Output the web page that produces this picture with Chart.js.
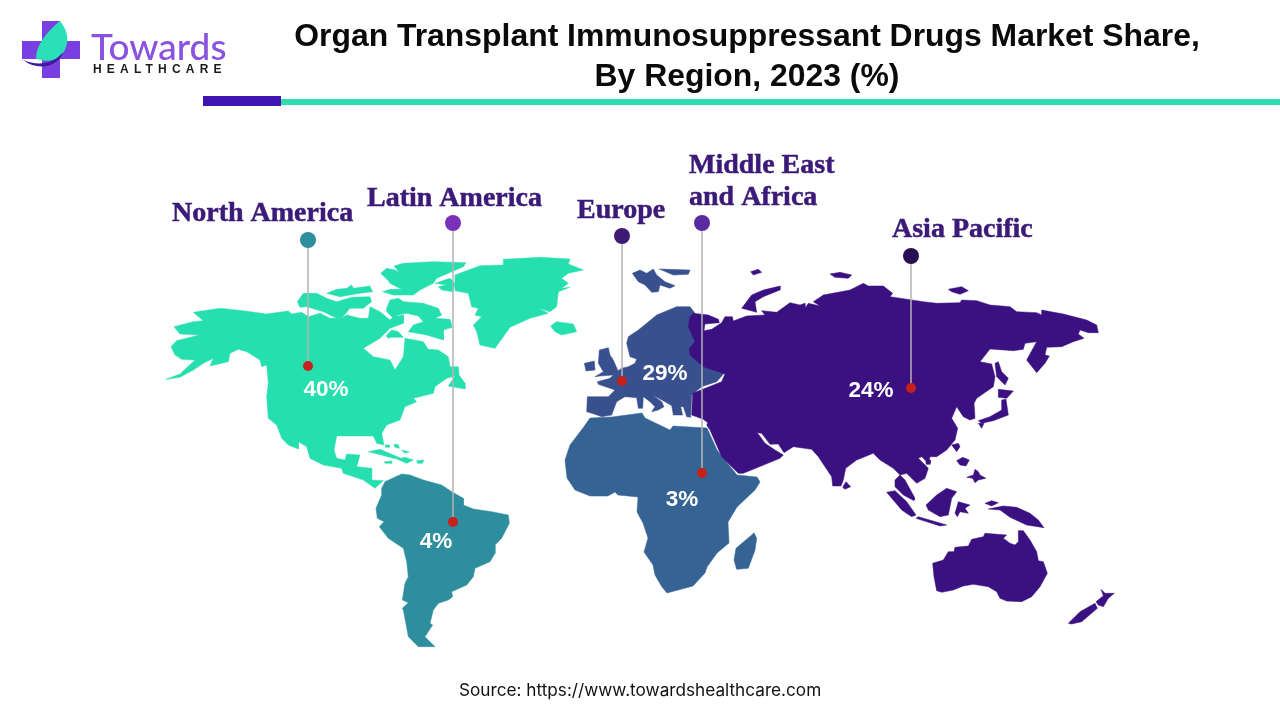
<!DOCTYPE html>
<html>
<head>
<meta charset="utf-8">
<title>Organ Transplant Immunosuppressant Drugs Market Share</title>
<script src="https://cdn.jsdelivr.net/npm/chart.js@4/dist/chart.umd.min.js"></script>
<style>
  body { margin: 0; background: #fff; width: 1280px; height: 720px; overflow: hidden; position: relative; }
  canvas { position: absolute; left: 0; top: 0; }
  .abs { position: absolute; white-space: nowrap; }
  #title { left: 207px; width: 1080px; top: 15px; text-align: center; font: bold 31.9px/40px "Liberation Sans", Arial, sans-serif; color: #0a0a0a; }
  #source { left: 459px; top: 679px; font: 17.2px Inter, sans-serif; color: #111; }
  #brand { left: 91px; top: 23px; font: 500 37px Lato, sans-serif; color: #8a52e0; }
  #brand2 { left: 93px; top: 62px; font: bold 12px "Liberation Sans", Arial, sans-serif; color: #1a1a1a; letter-spacing: 5.2px; }
  .bar { position: absolute; }
</style>
</head>
<body>
<canvas id="mapChart" width="1280" height="720"></canvas>
<svg class="abs" style="left:0;top:0" width="240" height="90">
  <path d="M42 21h18v20h20v18H60v19H42V59H22V41h20z" fill="#7a3fe0"/>
  <path d="M60 21c12 14 8 32-4 38-8 3-15 2-20-1 0-12 10-26 24-37z" fill="#2be0b8"/>
  <path d="M23 60c14 6 30 5 40-8-4 14-24 20-40 8z" fill="#3b1a9e"/>
</svg>
<div class="abs" id="brand">Towards</div>
<div class="abs" id="brand2">HEALTHCARE</div>
<div class="abs" id="title">Organ Transplant Immunosuppressant Drugs Market Share,<br>By Region, 2023 (%)</div>
<div class="bar" style="left:203px;top:96px;width:78px;height:10px;background:#3f14b0"></div>
<div class="bar" style="left:281px;top:99px;width:999px;height:6px;background:#2fdcb0"></div>
<div class="abs" id="source">Source: https://www.towardshealthcare.com</div>

<script>
// regions and their share
const regions = ['North America', 'Latin America', 'Europe', 'Middle East and Africa', 'Asia Pacific'];
const shares = [40, 4, 29, 3, 24];
const headColors = ['#2f8e9e', '#7a30b8', '#3f1a75', '#5a2aa0', '#2b0f55'];

// pin locations on the map
const pinX = [308, 453, 622, 702, 911];
const pinHeadY = [240, 223, 236, 223, 256];
const pinDotY = [366, 522, 381, 473, 388];
const shareX = [326, 436, 665, 682, 871];
const shareY = [390, 542, 374, 500, 391];

// caption lines: text, left edge, baseline
const captionLines = [
  ['North America', 172, 221],
  ['Latin America', 367, 206],
  ['Europe', 577, 218],
  ['Middle East', 689, 173],
  ['and Africa', 689, 205],
  ['Asia Pacific', 892, 237]
];

const northAmerica = [
  [18,388,60,372,105,330,65,328,45,315,33,290,50,272,118,255,60,252,42,230,100,215,130,212,100,187,180,175,250,182,320,192,385,183,395,192,425,187,445,200,480,190,510,205,545,205,560,195,600,205,625,205,630,170,660,185,690,210,700,200,730,195,730,220,690,235,660,265,610,295,640,320,690,330,705,360,730,320,735,265,790,275,805,298,835,300,865,320,870,350,895,350,897,375,915,400,915,417,865,408,885,378,860,385,825,410,820,430,760,445,770,455,735,470,720,510,680,525,665,550,672,585,650,580,640,558,530,558,522,600,530,625,555,630,560,612,600,615,590,650,635,655,635,690,670,692,645,715,610,690,550,670,545,655,490,645,450,625,440,590,415,575,415,597,385,585,365,565,350,525,325,505,320,440,325,400,320,345,305,350,300,330,260,305,235,298,210,310,205,335,150,348,160,325,130,340,100,360,60,382],
  [412,155,430,130,470,130,500,145,530,155,575,142,630,140,635,155,610,175,570,175,545,205,530,205,490,185,440,170,420,172],
  [500,130,530,118,560,115,575,105,580,115,630,108,638,125,600,130,540,140],
  [680,175,690,150,715,145,730,155,790,160,835,175,845,195,825,205,870,208,877,232,850,240,850,270,800,255,745,245,760,225,790,215,775,198,740,190,715,195,700,205,680,185],
  [678,258,695,240,715,245,730,262,695,262,685,265],
  [662,70,680,55,705,60,718,68,702,48,730,40,820,35,918,38,910,50,830,85,820,100,780,120,760,135,700,135,668,125,690,118,725,118,690,100,685,92],
  [825,100,870,85,885,100,880,125,845,120,835,110,860,105],
  [885,75,960,47,1030,45,1030,28,1140,22,1230,27,1225,42,1270,60,1225,70,1205,85,1225,100,1205,115,1230,112,1195,125,1190,170,1170,185,1135,175,1165,190,1110,205,1050,232,1030,260,1005,295,960,285,950,245,940,225,965,200,945,195,955,175,935,170,925,130,885,122],
  [1172,228,1190,215,1240,222,1250,245,1205,255,1185,245],
  [625,605,660,598,700,615,735,630,700,625,665,615],
  [712,628,735,622,760,630,740,640],
  [770,632,792,630,787,640,772,640],
  [673,635,695,633,695,640,675,640],
  [675,585,688,585,688,592,678,592],
  [702,582,715,584,718,595,705,592],
  [725,600,748,606,735,610]
];
const latinAmerica = [
  [65,85,75,65,125,42,150,45,190,60,245,75,275,95,310,115,310,135,340,147,395,155,445,165,448,190,425,235,405,255,405,280,390,305,345,325,340,350,320,375,275,395,278,410,265,420,235,430,220,450,210,490,218,495,195,530,225,560,175,560,145,530,130,450,127,445,145,428,127,420,135,370,145,350,140,305,130,265,85,235,58,200,72,185,52,175,48,145,65,105]
];
const africaMain = [
  [570,445,583,428,590,418,612,417,642,413,645,418,670,430,673,426,707,428,717,450,737,475,757,477,760,482,755,490,737,507,728,522,729,543,717,553,707,567,705,573,693,586,667,593,662,587,655,575,653,565,644,552,648,538,643,523,637,512,638,497,618,495,615,492,608,496,590,496,575,490,567,478,565,460]
];
const madagascar = [
  [1128,265,1175,225,1182,218,1190,235,1185,270,1165,325,1130,328,1122,300]
];
const europe = [
  [52,425,115,425,135,405,85,388,82,380,120,370,140,350,155,340,175,335,195,325,200,312,180,305,170,265,175,245,205,225,230,205,260,180,320,155,360,155,375,175,380,300,400,330,465,352,440,380,395,395,365,420,362,487,350,485,340,455,332,455,338,480,310,480,305,452,285,440,248,420,275,440,282,455,265,465,245,470,255,455,240,440,220,425,218,460,205,460,200,428,165,425,140,440,125,480,95,485,75,478,50,470],
  [85,325,88,285,115,278,120,300,130,315,145,350,130,360,90,363,75,365,100,350],
  [43,325,73,318,75,345,48,348],
  [187,55,210,45,230,55,250,42,260,60,285,80,315,92,300,100,270,90,265,110,245,112,225,90,205,80],
  [268,42,360,45,355,58,310,60]
];
const asiaNorth = [
  [30,170,40,160,85,165,115,178,118,188,75,192,72,212,95,208,125,188,135,170,157,170,160,183,200,168,255,165,245,152,290,157,330,128,360,135,375,130,375,145,385,130,420,138,400,125,430,105,510,90,550,70,565,78,610,78,638,100,630,110,730,125,770,130,840,128,845,120,890,122,930,135,990,140,1010,155,1070,158,1085,165,1085,150,1150,162,1220,180,1250,195,1255,218,1225,218,1200,210,1195,222,1212,235,1180,245,1145,260,1100,262,1095,285,1108,288,1095,310,1070,338,1040,300,1070,245,1035,250,1030,268,1000,272,930,267,900,305,935,312,945,350,940,380,890,415,882,430,885,475,870,480,850,470,830,440,815,475,833,505,825,540,800,570,770,590,750,590,745,610,725,590,715,595,745,625,735,655,710,670,680,640,660,645,640,625,600,600,580,580,530,600,497,625,490,660,483,678,458,678,455,650,415,590,395,568,340,560,312,578,295,552,270,553,245,520,232,518,255,550,285,570,310,585,300,595,190,640,175,640,125,590,90,510,80,495,95,470,85,490,70,478,35,465,38,400,125,365,135,342,70,320,30,285,28,265,45,245,25,200],
  [945,310,955,305,965,335,985,355,975,375,950,350],
  [955,388,1000,393,980,415,955,412],
  [965,420,978,418,985,465,940,482,905,490,895,482,930,470,965,450],
  [895,490,912,490,905,505],
  [212,35,235,28,245,37,220,45],
  [450,42,480,37,515,45,505,55,465,52],
  [805,88,845,80,865,92,840,103,815,95],
  [185,145,215,105,250,90,300,78,300,90,250,110,225,125,230,157,205,150]
];
const asiaSouth = [
  [165,150,180,135,195,150,225,205,222,212,190,195,165,170],
  [278,400,310,390,325,365,342,365,345,352,385,348,395,328,430,320,435,310,500,315,490,325,510,340,525,345,535,335,535,302,550,302,570,330,590,365,595,392,610,395,622,430,600,470,575,500,545,515,500,513,480,505,470,485,445,470,400,463,370,468,340,480,305,487,290,482,282,440],
  [445,237,470,232,490,228,530,232,570,250,595,270,612,293,560,285,510,262,480,240],
  [435,220,455,212,475,218,455,228],
  [258,225,290,195,320,175,350,185,335,205,325,255,300,260,265,240],
  [345,250,355,215,390,225,375,235,385,250,360,245,352,260],
  [140,187,165,182,200,215,228,255,215,260,185,240],
  [228,265,235,260,320,285,300,288],
  [380,142,400,135,405,118,415,125,420,135,438,145,415,150,405,158,398,145],
  [335,45,355,40,360,50,350,65],
  [350,92,368,82,388,90,378,108,360,105],
  [8,172,18,155,32,170,15,178],
  [685,580,720,545,765,520,772,535,725,575,695,582],
  [768,515,790,497,783,478,795,490,823,490,805,505,790,530,775,525],
  [258,92,272,90,270,103,260,103]
];

// crop origin turns crop units into map units
function toMap(list, ox, oy, unit) {
  const pts = [];
  for (let i = 0; i < list.length; i += 2) pts.push({ x: ox + list[i] / unit, y: oy + list[i + 1] / unit });
  pts.push(pts[0]);
  return pts;
}

function land(outlines, ox, oy, unit, color) {
  return outlines.map(o => ({
    data: toMap(o, ox, oy, unit),
    showLine: true,
    fill: 'shape',
    backgroundColor: color,
    borderColor: color,
    borderWidth: 0.5,
    pointRadius: 0,
    tension: 0
  }));
}

// first dataset is drawn on top
const mapSets = [
  ...land(latinAmerica, 360, 460, 3, '#2f8e9e'),
  ...land(northAmerica, 160, 250, 3, '#26dfae'),
  ...land(asiaSouth, 840, 430, 3, '#3b1080'),
  ...land(asiaNorth, 680, 260, 3, '#3b1080'),
  ...land(europe, 570, 255, 3, '#39508f'),
  ...land(madagascar, 360, 460, 3, '#356494'),
  ...land(africaMain, 0, 0, 1, '#356494')
];

const stemSets = regions.map((r, i) => ({
  data: [{ x: pinX[i], y: pinHeadY[i] }, { x: pinX[i], y: pinDotY[i] }],
  showLine: true,
  borderColor: '#b4b4b4',
  borderWidth: 1.5,
  pointRadius: 0
}));

const headSet = {
  data: regions.map((r, i) => ({ x: pinX[i], y: pinHeadY[i] })),
  pointRadius: 8,
  pointBackgroundColor: headColors,
  pointBorderWidth: 0
};

const dotSet = {
  data: regions.map((r, i) => ({ x: pinX[i], y: pinDotY[i] })),
  pointRadius: 5,
  pointBackgroundColor: '#c8201a',
  pointBorderWidth: 0
};

// captions and share labels, placed through the scales
const labelPlugin = {
  id: 'labelPlugin',
  afterDatasetsDraw(chart) {
    const { ctx, scales: { x, y } } = chart;
    ctx.save();
    ctx.textBaseline = 'alphabetic';
    ctx.fillStyle = '#3b1a78';
    ctx.strokeStyle = '#3b1a78';
    ctx.lineWidth = 0.5;
    ctx.font = 'bold 28px "Liberation Serif", serif';
    ctx.textAlign = 'left';
    captionLines.forEach(c => {
      ctx.fillText(c[0], x.getPixelForValue(c[1]), y.getPixelForValue(c[2]));
      ctx.strokeText(c[0], x.getPixelForValue(c[1]), y.getPixelForValue(c[2]));
    });
    ctx.fillStyle = '#ffffff';
    ctx.font = 'bold 22.5px "Liberation Sans", Arial, sans-serif';
    ctx.textAlign = 'center';
    ctx.textBaseline = 'middle';
    shares.forEach((s, i) => ctx.fillText(s + '%', x.getPixelForValue(shareX[i]), y.getPixelForValue(shareY[i])));
    ctx.restore();
  }
};

new Chart(document.getElementById('mapChart'), {
  type: 'scatter',
  data: { datasets: [dotSet, headSet, ...stemSets, ...mapSets] },
  options: {
    responsive: false,
    animation: false,
    layout: { padding: 0, autoPadding: false },
    plugins: { legend: { display: false }, tooltip: { enabled: false }, title: { display: false } },
    scales: {
      x: { type: 'linear', min: 0, max: 1280, display: false },
      y: { type: 'linear', min: 0, max: 720, reverse: true, display: false }
    }
  },
  plugins: [labelPlugin]
});
</script>
</body>
</html>
